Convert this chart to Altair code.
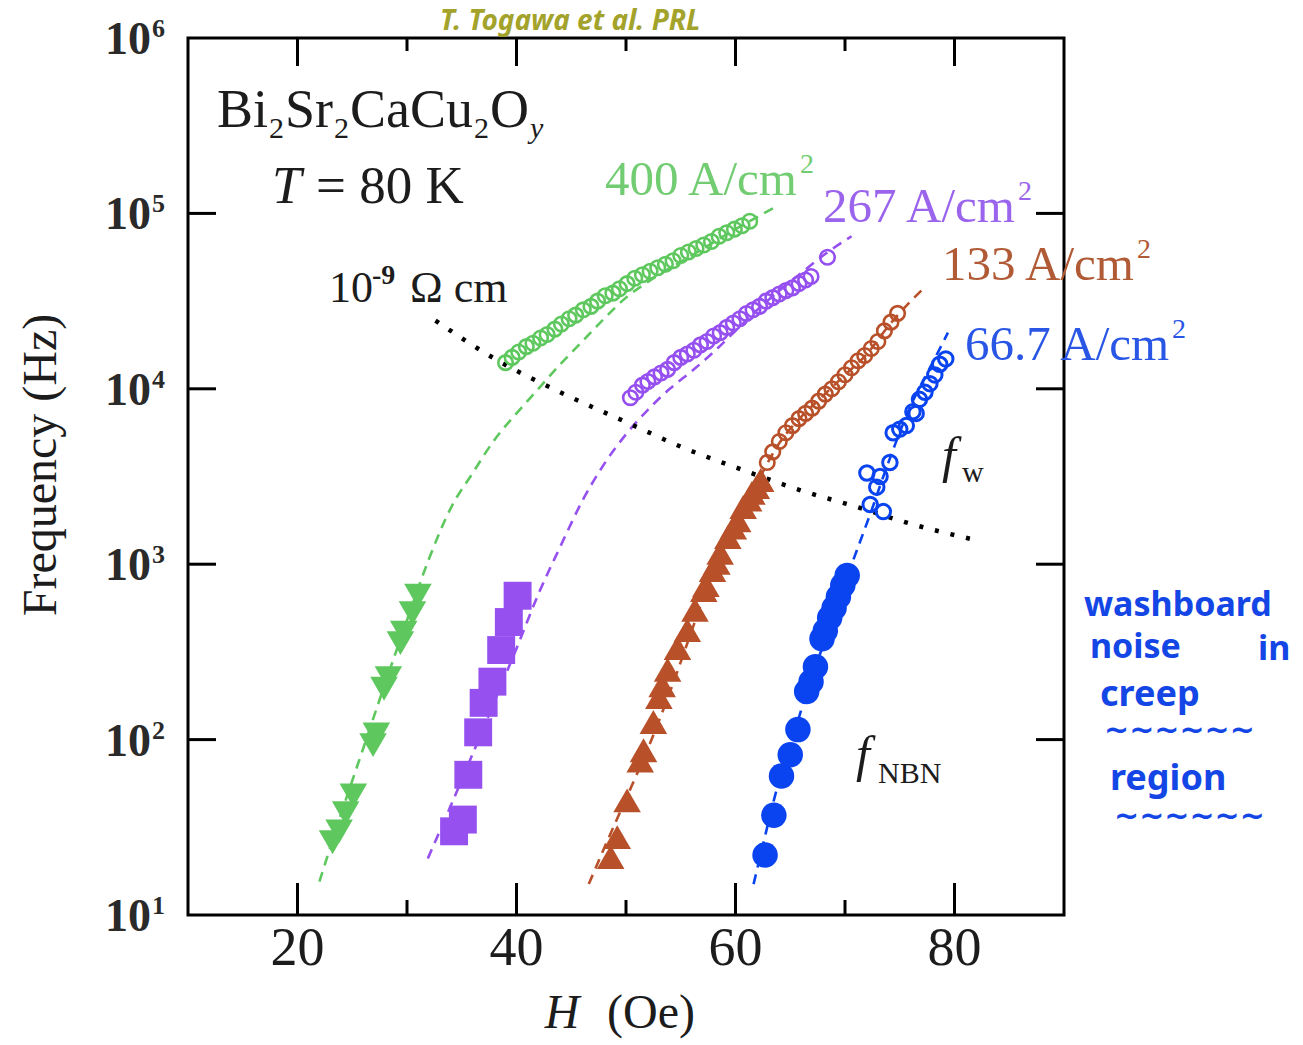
import altair as alt
import pandas as pd

# ---------------- data ----------------
# 400 A/cm^2 (green)
G_TRI_H = [31.0, 30.5, 29.7, 29.4, 28.3, 27.9, 27.2, 26.9, 25.1, 24.4, 23.8, 23.2]
G_TRI_F = [661, 525, 407, 355, 224, 195, 107, 93, 48, 38, 30, 26]
G_CIR_H = [39.0, 39.6, 40.2, 40.9, 41.5, 42.2, 42.8, 43.5, 44.1, 44.8, 45.4, 46.1, 46.8, 47.4,
           48.1, 48.8, 49.4, 50.1, 50.8, 51.5, 52.2, 52.9, 53.6, 54.3, 55.0, 55.7, 56.4, 57.1,
           57.8, 58.5, 59.2, 59.9, 60.6, 61.3]
G_CIR_F = [14100, 15100, 16200, 17400, 18200, 19500, 20400, 21900, 23400, 25100, 26300, 28200,
           29500, 31600, 33900, 35100, 37200, 39800, 42700, 44700, 46800, 49000, 51300, 53700,
           57500, 60300, 63100, 66100, 69200, 74100, 77600, 81300, 85100, 90200]
G_FIT_H = [22.0, 24.0, 26.0, 28.0, 30.0, 32.0, 34.0, 36.0, 38.0, 40.0, 42.0, 44.0, 46.0, 48.0,
           50.0, 52.0, 56.0, 60.0, 63.8]
G_FIT_F = [15.5, 38, 89, 209, 479, 1070, 2090, 3310, 5130, 7240, 10000, 13800, 18600, 25100,
           33100, 40700, 57500, 81300, 110000]

# 267 A/cm^2 (purple)
P_SQ_H = [40.1, 39.3, 38.6, 37.8, 37.0, 36.5, 35.6, 35.1, 34.3]
P_SQ_F = [661, 468, 324, 214, 162, 110, 63, 35, 30]
P_CIR_H = [50.4, 50.9, 51.5, 52.0, 52.6, 53.2, 53.8, 54.4, 55.0, 55.6, 56.2, 56.8, 57.4, 58.0,
           58.6, 59.2, 59.8, 60.4, 61.0, 61.6, 62.2, 62.8, 63.4, 64.0, 64.6, 65.2, 65.8, 66.4,
           66.9, 68.4]
P_CIR_F = [8900, 9550, 10500, 11000, 11700, 12300, 12900, 14100, 15100, 15800, 16600, 17800,
           18600, 20000, 20900, 22400, 23700, 25100, 26900, 28200, 29500, 31600, 33100, 34700,
           36300, 37600, 39800, 41700, 43700, 56200]
P_FIT_H = [31.9, 34.0, 36.0, 38.0, 40.0, 42.0, 44.0, 46.0, 48.0, 50.0, 52.0, 54.0, 56.0, 58.0,
           60.0, 62.0, 64.0, 66.0, 68.0, 70.6]
P_FIT_F = [21, 42, 83, 166, 331, 676, 1260, 2290, 3720, 5500, 7590, 10000, 12600, 16200,
           21400, 28200, 36300, 45700, 57500, 74100]

# 133 A/cm^2 (brown)
B_TRI_H = [48.6, 49.2, 50.1, 51.3, 51.6, 52.5, 53.0, 53.3, 53.8, 54.7, 55.6, 56.3, 57.1, 57.3,
           57.9, 58.3, 58.6, 59.3, 59.8, 60.2, 60.7, 61.2, 61.5, 61.9, 62.3]
B_TRI_F = [21.4, 27.8, 45, 76, 87, 126, 175, 204, 250, 333, 421, 550, 713, 760, 927, 1020,
           1160, 1430, 1620, 1780, 2120, 2340, 2550, 2750, 3020]
B_CIR_H = [62.9, 63.4, 64.0, 64.6, 65.2, 65.8, 66.4, 67.0, 67.6, 68.2, 68.8, 69.4, 70.0, 70.6,
           71.2, 71.8, 72.4, 73.0, 73.6, 74.2, 74.8]
B_CIR_F = [3800, 4370, 5010, 5620, 6170, 6760, 7240, 7760, 8510, 9330, 10000, 10960, 12020,
           13180, 14450, 15490, 16980, 18620, 21380, 23990, 26920]
B_FIT_H = [46.6, 48.0, 50.0, 52.0, 54.0, 56.0, 58.0, 60.0, 62.0, 64.0, 66.0, 68.0, 70.0, 72.0,
           74.0, 76.0, 77.3]
B_FIT_F = [15, 24, 46, 89, 186, 417, 933, 1740, 2950, 4900, 6920, 9120, 12000, 15800, 22900,
           31600, 38000]

# 66.7 A/cm^2 (blue)
U_DOT_H = [62.7, 63.5, 64.2, 65.0, 65.7, 66.5, 66.9, 67.3, 67.9, 68.2, 68.6, 69.0, 69.4, 69.8, 70.2]
U_DOT_F = [22, 37, 62, 82, 114, 188, 214, 260, 376, 417, 495, 562, 653, 759, 861]
U_CIR_H = [72.0, 72.9, 72.3, 73.5, 74.1, 73.2, 74.4, 75.0, 75.6, 76.2, 76.5, 76.8, 77.3, 77.75,
           78.2, 78.65, 79.2]
U_CIR_F = [3310, 2750, 2190, 1995, 3800, 3160, 5620, 5890, 6170, 7410, 7240, 8710, 9550, 10700,
           12000, 13800, 14800]
U_FIT_H = [61.65, 62.5, 63.5, 64.5, 65.5, 66.5, 67.5, 68.5, 69.5, 70.5, 71.5, 72.5, 73.5, 74.5,
           75.5, 76.5, 77.5, 78.5, 79.4]
U_FIT_F = [15, 25, 45, 76, 117, 186, 282, 417, 631, 955, 1410, 2090, 3160, 4680, 6760, 9330,
           12300, 16200, 20900]

# washboard frequency, 10^-9 Ohm cm (black dotted)
W_H = [32.6, 38.2, 44.0, 50.2, 55.0, 60.7, 66.0, 71.1, 76.0, 82.0]
W_F = [24500, 14600, 9550, 6380, 4680, 3440, 2630, 2120, 1700, 1370]

# axes
X_MAJOR = [20, 40, 60, 80]
X_MINOR = [30, 50, 70]
X_LABELS = ["20", "40", "60", "80"]
Y_TICKS = [1e2, 1e3, 1e4, 1e5]
Y_LABEL_VALUES = [1e1, 1e2, 1e3, 1e4, 1e5, 1e6]
Y_LABEL_EXP = ["1", "2", "3", "4", "5", "6"]

SERIES_LABELS = ["400 A/cm", "267 A/cm", "133 A/cm", "66.7 A/cm"]

# ---------------- styling ----------------
GREEN, PURPLE, BROWN, BLUE = "#5ec85e", "#9650f0", "#b8502a", "#0a44f0"
SERIF = "Liberation Serif"
OX, OY = 188, 38            # plot-area origin inside the page
W, H = 876, 877             # plot-area size

xs = alt.Scale(domain=[10, 90], nice=False, zero=False)
ys = alt.Scale(type="log", domain=[10, 1e6], nice=False)


def df(h, f):
    return pd.DataFrame({"H": h, "F": f})


def enc(ch):
    return ch.encode(x=alt.X("H:Q", scale=xs, axis=None),
                     y=alt.Y("F:Q", scale=ys, axis=None))


def fit(h, f, color):
    return enc(alt.Chart(df(h, f)).mark_line(color=color, strokeWidth=2.6,
                                             strokeDash=[10, 7], interpolate="monotone"))


def pts(h, f, color, shape, size, filled, sw=2.4):
    if filled:
        m = alt.Chart(df(h, f)).mark_point(shape=shape, size=size, filled=True,
                                           color=color, opacity=1, strokeWidth=0)
    else:
        m = alt.Chart(df(h, f)).mark_point(shape=shape, size=size, filled=False,
                                           color=color, opacity=1, strokeWidth=sw)
    return enc(m)


def txt(s, x, y, size, color="#1c1c1c", style="normal", weight="normal",
        align="left", baseline="alphabetic", font=SERIF, angle=0):
    kw = dict(fontSize=size, color=color, fontStyle=style, fontWeight=weight,
              align=align, baseline=baseline, font=font)
    if angle:
        kw["angle"] = angle
    return alt.Chart(pd.DataFrame({"t": [s]})).mark_text(**kw).encode(
        text="t:N", x=alt.value(x - OX), y=alt.value(y - OY))


layers = []
# fitted dashed curves
layers += [fit(G_FIT_H, G_FIT_F, GREEN), fit(P_FIT_H, P_FIT_F, PURPLE),
           fit(B_FIT_H, B_FIT_F, BROWN), fit(U_FIT_H, U_FIT_F, BLUE)]
# washboard dotted line
layers.append(enc(alt.Chart(df(W_H, W_F)).mark_line(color="black", strokeWidth=4.5,
                                                    strokeDash=[4, 12], strokeCap="butt",
                                                    interpolate="monotone")))
# markers
layers += [
    pts(G_TRI_H, G_TRI_F, GREEN, "triangle-down", 760, True),
    pts(G_CIR_H, G_CIR_F, GREEN, "circle", 210, False, sw=2.6),
    pts(P_SQ_H, P_SQ_F, PURPLE, "square", 780, True),
    pts(P_CIR_H, P_CIR_F, PURPLE, "circle", 210, False, sw=2.6),
    pts(B_TRI_H, B_TRI_F, BROWN, "triangle-up", 760, True),
    pts(B_CIR_H, B_CIR_F, BROWN, "circle", 210, False, sw=2.6),
    pts(U_DOT_H, U_DOT_F, BLUE, "circle", 650, True),
    pts(U_CIR_H, U_CIR_F, BLUE, "circle", 210, False, sw=3.0),
]

# inward ticks
def xrule(vals, y1, y2):
    return alt.Chart(pd.DataFrame({"v": vals})).mark_rule(color="black", strokeWidth=3).encode(
        x=alt.X("v:Q", scale=xs, axis=None), y=alt.value(y1), y2=alt.value(y2))


def yrule(vals, x1, x2):
    return alt.Chart(pd.DataFrame({"v": vals})).mark_rule(color="black", strokeWidth=3).encode(
        y=alt.Y("v:Q", scale=ys, axis=None), x=alt.value(x1), x2=alt.value(x2))


layers += [xrule(X_MAJOR, H, H - 32), xrule(X_MINOR, H, H - 15),
           xrule(X_MAJOR, 0, 28), xrule(X_MINOR, 0, 13),
           yrule(Y_TICKS, 0, 28), yrule(Y_TICKS, W, W - 28)]

# tick labels
xl = pd.DataFrame({"v": X_MAJOR, "t": X_LABELS})
layers.append(alt.Chart(xl).mark_text(font=SERIF, fontSize=54, color="#1c1c1c",
                                      align="center", baseline="alphabetic").encode(
    x=alt.X("v:Q", scale=xs, axis=None), y=alt.value(965 - OY), text="t:N"))
yl = pd.DataFrame({"v": Y_LABEL_VALUES, "e": Y_LABEL_EXP, "b": ["10"] * 6})
layers.append(alt.Chart(yl).mark_text(font=SERIF, fontSize=46, fontWeight="bold",
                                      color="#2a2a2a", align="right", baseline="middle",
                                      dy=2).encode(
    y=alt.Y("v:Q", scale=ys, axis=None), x=alt.value(151 - OX), text="b:N"))
layers.append(alt.Chart(yl).mark_text(font=SERIF, fontSize=26, fontWeight="bold",
                                      color="#2a2a2a", align="left", baseline="middle",
                                      dy=-9).encode(
    y=alt.Y("v:Q", scale=ys, axis=None), x=alt.value(152 - OX), text="e:N"))

# axis titles
layers += [
    txt("Frequency (Hz)", 42, 465, 48, align="center", baseline="middle", angle=270),
    txt("H", 562, 1028, 48, style="italic", align="center"),
    txt("(Oe)", 607, 1028, 48),
]

# in-plot annotations
layers += [
    txt("Bi", 217, 127, 54), txt("2", 269, 138, 30), txt("Sr", 285, 127, 54),
    txt("2", 334, 138, 30), txt("CaCu", 350, 127, 54), txt("2", 474, 138, 30),
    txt("O", 490, 127, 54), txt("y", 530, 138, 30, style="italic"),
    txt("T", 272, 203, 53, style="italic"), txt("= 80 K", 316, 203, 53),
    txt("10", 329, 302, 44), txt("-9", 372, 284, 28, weight="bold"),
    txt("Ω cm", 410, 302, 44),
    txt(SERIES_LABELS[0], 605, 195, 49, color="#72cc72"), txt("2", 800, 173, 28, color="#72cc72"),
    txt(SERIES_LABELS[1], 823, 222, 49, color="#9a64ec"), txt("2", 1018, 200, 28, color="#9a64ec"),
    txt(SERIES_LABELS[2], 942, 280, 49, color="#b05a36"), txt("2", 1137, 258, 28, color="#b05a36"),
    txt(SERIES_LABELS[3], 965, 360, 49, color="#2a56e6"), txt("2", 1172, 338, 28, color="#2a56e6"),
    txt("f", 942, 472, 50, style="italic"), txt("w", 962, 482, 30),
    txt("f", 856, 771, 50, style="italic"), txt("NBN", 878, 783, 30),
]

# handwritten notes
HAND = "Noto Sans"
NOTE = "#1446e6"
layers += [
    txt("T. Togawa et al. PRL", 440, 30, 28, color="#a3a32c", font=HAND, weight="bold", style="italic"),
    txt("washboard", 1084, 616, 34, color=NOTE, font=HAND, weight="bold"),
    txt("noise", 1090, 658, 34, color=NOTE, font=HAND, weight="bold"),
    txt("in", 1258, 660, 34, color=NOTE, font=HAND, weight="bold"),
    txt("creep", 1100, 706, 36, color=NOTE, font=HAND, weight="bold"),
    txt("~~~~~~", 1104, 740, 30, color=NOTE, font="DejaVu Sans", weight="bold"),
    txt("region", 1110, 790, 36, color=NOTE, font=HAND, weight="bold"),
    txt("~~~~~~", 1114, 826, 30, color=NOTE, font="DejaVu Sans", weight="bold"),
]

chart = alt.layer(*layers).properties(
    width=W, height=H,
    padding={"left": OX, "top": OY, "right": 1303 - OX - W, "bottom": 1045 - OY - H},
    autosize="none",
    background="white",
).configure_view(stroke="black", strokeWidth=3, fill="white")

chart.save("out.html", embed_options={"renderer": "svg", "actions": False})
